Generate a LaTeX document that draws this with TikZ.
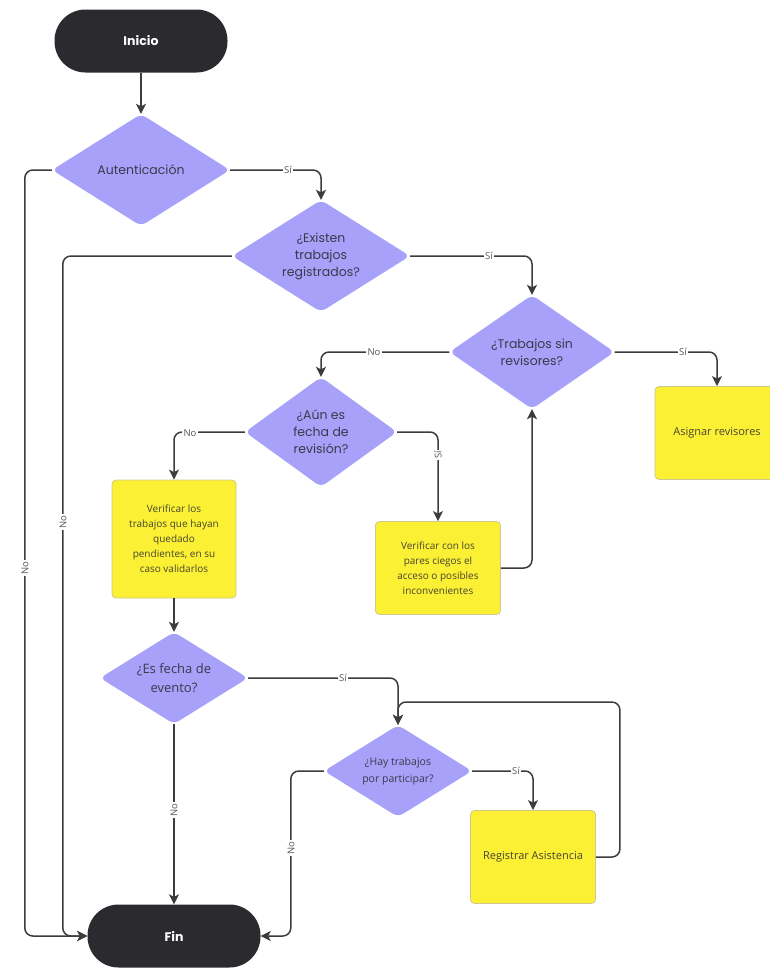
\documentclass[tikz,border=0pt]{standalone}
\usepackage{fontspec}
\setmainfont{Open Sans}
\newfontfamily\pop{Poppins}
\usetikzlibrary{shapes.geometric,arrows.meta,calc}
\definecolor{pillc}{HTML}{2B2B2F}
\definecolor{diac}{HTML}{A7A1FA}
\definecolor{yel}{HTML}{FCF035}
\definecolor{yelb}{HTML}{CFC88E}
\definecolor{linec}{HTML}{3C3C3C}
\definecolor{labc}{HTML}{555555}
\definecolor{diat}{HTML}{3A3A4A}
\definecolor{boxt}{HTML}{45452F}
\begin{document}
\begin{tikzpicture}[x=1pt,y=-1pt,
  pill/.style={rectangle, rounded corners=31pt, fill=pillc, minimum width=173pt, minimum height=63pt, inner sep=0pt, text=white, font=\pop\bfseries\fontsize{12.5}{14}\selectfont},
  dia/.style={diamond, fill=diac, rounded corners=6pt, inner sep=0pt},
  diatxt/.style={align=center, text=diat, inner sep=0pt, font=\pop\fontsize{12.5}{17}\selectfont},
  diatxtb/.style={align=center, text=diat, inner sep=0pt, font=\fontsize{13}{19}\selectfont},
  diatxtc/.style={align=center, text=diat, inner sep=0pt, font=\fontsize{10.5}{17}\selectfont},
  ybox/.style={rectangle, rounded corners=4pt, fill=yel, draw=yelb, line width=0.8pt, align=center, text=boxt, inner sep=2pt, font=\fontsize{10}{15}\selectfont},
  yboxl/.style={ybox, font=\fontsize{11}{15}\selectfont},
  arr/.style={draw=linec, line width=1.5pt, rounded corners=8pt, -{Stealth[length=10pt,width=10pt,inset=2.5pt]}},
  lab/.style={fill=white, inner sep=1.5pt, text=labc, font=\fontsize{9.5}{11}\selectfont},
  labv/.style={lab, rotate=90}
]
\useasboundingbox (0,0) rectangle (770,969);

% nodes
\node[pill] (ini) at (141,41) {Inicio};
\node[dia, minimum width=178pt, minimum height=112pt, label={[diatxt]center:Autenticación}] (aut) at (141,170) {};
\node[dia, minimum width=178pt, minimum height=112pt, label={[diatxt]center:{¿Existen\\trabajos\\registrados?}}] (ex) at (321,256) {};
\node[dia, minimum width=165pt, minimum height=114pt, label={[diatxt]center:{¿Trabajos sin\\revisores?}}] (trab) at (532,352) {};
\node[yboxl, minimum width=124pt, minimum height=93pt] (asig) at (717,433) {Asignar revisores};
\node[dia, minimum width=152pt, minimum height=110pt, label={[diatxt]center:{¿Aún es\\fecha de\\revisión?}}] (aun) at (321,432) {};
\node[ybox, minimum width=124pt, minimum height=118pt] (vlt) at (174,539) {Verificar los\\trabajos que hayan\\quedado\\pendientes, en su\\caso validarlos};
\node[ybox, minimum width=125pt, minimum height=93pt] (vcp) at (438,568) {Verificar con los\\pares ciegos el\\acceso o posibles\\inconvenientes};
\node[dia, minimum width=148pt, minimum height=92pt, label={[diatxtb]center:{¿Es fecha de\\evento?}}] (esf) at (174,678) {};
\node[dia, minimum width=148pt, minimum height=92pt, label={[diatxtc]center:{¿Hay trabajos\\por participar?}}] (hay) at (398,771) {};
\node[yboxl, minimum width=125pt, minimum height=93pt] (reg) at (533,857) {Registrar Asistencia};
\node[pill] (fin) at (174,936) {Fin};
\coordinate (loopc) at (398,702);

% connectors
\draw[arr] (ini) -- (aut);
\draw[arr] (aut.east) -| (ex.north);
\draw[arr] (aut.west) -- ++(-27,0) |- (fin.west);
\draw[arr] (ex.east) -| (trab.north);
\draw[arr] (ex.west) -- ++(-169,0) |- (fin.west);
\draw[arr] (trab.east) -| (asig.north);
\draw[arr] (trab.west) -| (aun.north);
\draw[arr] (aun.east) -| (vcp.north);
\draw[arr] (aun.west) -| (vlt.north);
\draw[arr] (vcp.east) -| (trab.south);
\draw[arr] (vlt) -- (esf);
\draw[arr] (esf.east) -| (hay.north);
\draw[arr] (esf) -- (fin);
\draw[arr] (hay.east) -| (reg.north);
\draw[arr] (hay.west) -- ++(-33,0) |- (fin.east);
\draw[arr] (reg.east) -- ++(24,0) |- (loopc) -- (hay.north);

% labels
\node[lab] (l1) at (288,170) {Sí};
\node[labv] (l2) at (25,568) {No};
\node[lab] (l3) at (489,256) {Sí};
\node[labv] (l4) at (63,522) {No};
\node[lab] (l5) at (683,352) {Sí};
\node[lab] (l6) at (374,352) {No};
\node[labv] (l7) at (438,455) {Sí};
\node[lab] (l8) at (190,433) {No};
\node[lab] (l9) at (343,678) {Sí};
\node[labv] (l10) at (174,810) {No};
\node[lab] (l11) at (516,771) {Sí};
\node[labv] (l12) at (291,848) {No};
\end{tikzpicture}
\end{document}
